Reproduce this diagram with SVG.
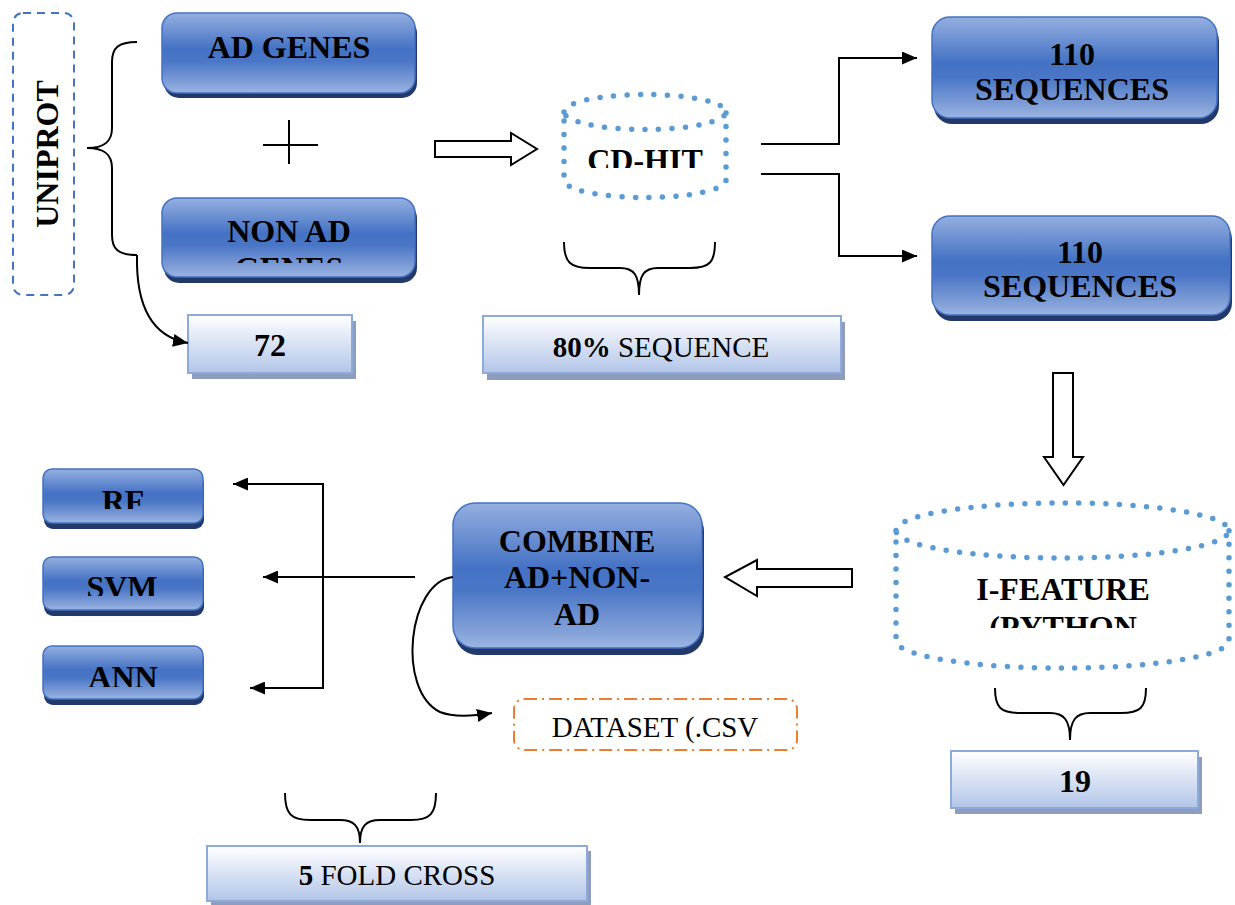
<svg xmlns="http://www.w3.org/2000/svg" width="1235" height="905" viewBox="0 0 1235 905">
<defs>
<linearGradient id="gBlue" x1="0" y1="0" x2="0" y2="1">
<stop offset="0" stop-color="#95afe0"/>
<stop offset="0.45" stop-color="#4472c4"/>
<stop offset="0.6" stop-color="#4a76c6"/>
<stop offset="0.9" stop-color="#86a3d9"/>
<stop offset="1" stop-color="#9cb5e3"/>
</linearGradient>
<linearGradient id="gLight" x1="0" y1="0" x2="0" y2="1">
<stop offset="0" stop-color="#ffffff"/>
<stop offset="1" stop-color="#b2c5e8"/>
</linearGradient>
<marker id="ah" markerUnits="userSpaceOnUse" markerWidth="15" markerHeight="13" refX="15" refY="6.5" orient="auto-start-reverse">
<path d="M0,0 L15,6.5 L0,13 z" fill="#000"/>
</marker>
<clipPath id="cNon"><rect x="150" y="190" width="280" height="73"/></clipPath>
<clipPath id="cCd"><rect x="560" y="90" width="170" height="78"/></clipPath>
<clipPath id="cIf"><rect x="890" y="500" width="345" height="128"/></clipPath>
<clipPath id="cRf"><rect x="40" y="465" width="170" height="44"/></clipPath>
<clipPath id="cSvm"><rect x="40" y="553" width="170" height="43"/></clipPath>
<clipPath id="cAnn"><rect x="40" y="642" width="170" height="45"/></clipPath>
</defs>
<style>
.shb{fill:#22396a}
.bb{fill:url(#gBlue);stroke:#4472c4;stroke-width:1.5}
.shl{fill:#8e9dbd}
.lb{fill:url(#gLight);stroke:#8eaadb;stroke-width:2}
.t{font-family:"Liberation Serif","Times New Roman",serif;font-weight:bold;font-size:32px;fill:#000;text-anchor:middle}
.tn{font-family:"Liberation Serif","Times New Roman",serif;font-size:29px;fill:#000;text-anchor:middle}
.cyl{fill:none;stroke:#5b9bd5;stroke-width:5.5;stroke-dasharray:0 13.5;stroke-linecap:round}
.ln{fill:none;stroke:#000;stroke-width:2}
.hollow{fill:#fff;stroke:#000;stroke-width:2}
</style>
<rect width="1235" height="905" fill="#fff"/>

<g id="uniprot">
<rect x="13" y="13" width="61" height="282" rx="10" fill="none" stroke="#4472c4" stroke-width="2" stroke-dasharray="8 6"/>
<text class="t" transform="translate(58,154) rotate(-90)" x="0" y="0">UNIPROT</text>
</g>

<g id="ad-genes">
<rect class="shb" x="164" y="18" width="253" height="80" rx="15"/>
<rect class="bb" x="162" y="13" width="253" height="80" rx="15"/>
<text class="t" x="289" y="58">AD GENES</text>
</g>

<g id="plus">
<line class="ln" x1="263" y1="145" x2="318" y2="145" stroke-width="1.5"/>
<line class="ln" x1="289" y1="120" x2="289" y2="164" stroke-width="1.5"/>
</g>

<g id="non-ad-genes">
<rect class="shb" x="164" y="203" width="253" height="80" rx="15"/>
<rect class="bb" x="162" y="198" width="253" height="79" rx="15"/>
<g clip-path="url(#cNon)">
<text class="t" x="289" y="242">NON AD</text>
<text class="t" x="289" y="279">GENES</text>
</g>
</g>

<g id="n72">
<rect class="shl" x="192" y="321" width="164" height="58"/>
<rect class="lb" x="188" y="315" width="164" height="58"/>
<text class="t" x="270" y="356" font-size="30">72</text>
</g>

<g id="cdhit">
<path class="cyl" d="M564,112 A81,17.5 0 0 1 726,112 A81,17.5 0 0 1 564,112 L564,180 A81,17.5 0 0 0 726,180 L726,112"/>
<g clip-path="url(#cCd)">
<text class="t" x="645" y="171">CD-HIT</text>
</g>
</g>

<g id="seq80">
<rect class="shl" x="487" y="322" width="358" height="58"/>
<rect class="lb" x="483" y="316" width="358" height="57"/>
<text class="tn" x="661" y="357"><tspan font-weight="bold">80%</tspan> SEQUENCE</text>
</g>

<g id="seq110a">
<rect class="shb" x="934" y="23" width="285" height="101" rx="18"/>
<rect class="bb" x="932" y="17" width="285" height="101" rx="18"/>
<text class="t" x="1072" y="65">110</text>
<text class="t" x="1072" y="100">SEQUENCES</text>
</g>

<g id="seq110b">
<rect class="shb" x="934" y="221" width="298" height="100" rx="18"/>
<rect class="bb" x="932" y="216" width="298" height="99" rx="18"/>
<text class="t" x="1080" y="263">110</text>
<text class="t" x="1080" y="297">SEQUENCES</text>
</g>

<g id="ifeature">
<path class="cyl" d="M896,530.5 A166,27.5 0 0 1 1229,530.5 A166,27.5 0 0 1 896,530.5 L896,640.5 A166,27.5 0 0 0 1229,640.5 L1229,530.5"/>
<g clip-path="url(#cIf)">
<text class="t" x="1063" y="600">I-FEATURE</text>
<text class="t" x="1063" y="638">(PYTHON</text>
</g>
</g>

<g id="n19">
<rect class="shl" x="955" y="757" width="247" height="57"/>
<rect class="lb" x="951" y="751" width="247" height="57"/>
<text class="t" x="1075" y="792" font-size="30">19</text>
</g>

<g id="combine">
<rect class="shb" x="455" y="509" width="249" height="146" rx="22"/>
<rect class="bb" x="453" y="503" width="249" height="145" rx="22"/>
<text class="t" x="577" y="552">COMBINE</text>
<text class="t" x="577" y="588">AD+NON-</text>
<text class="t" x="577" y="625">AD</text>
</g>

<g id="dataset">
<rect x="514" y="699" width="283" height="51" rx="10" fill="none" stroke="#ed7d31" stroke-width="2" stroke-dasharray="13 5 2 5"/>
<text class="tn" x="655" y="737" font-size="25">DATASET (.CSV</text>
</g>

<g id="rf">
<rect class="shb" x="44" y="475" width="160" height="54" rx="9"/>
<rect class="bb" x="43" y="469" width="160" height="54" rx="9"/>
<g clip-path="url(#cRf)"><text class="t" x="123" y="512">RF</text></g>
</g>

<g id="svm">
<rect class="shb" x="44" y="562" width="160" height="54" rx="9"/>
<rect class="bb" x="43" y="557" width="160" height="53" rx="9"/>
<g clip-path="url(#cSvm)"><text class="t" x="122" y="598">SVM</text></g>
</g>

<g id="ann">
<rect class="shb" x="44" y="651" width="160" height="54" rx="9"/>
<rect class="bb" x="43" y="646" width="160" height="53" rx="9"/>
<g clip-path="url(#cAnn)"><text class="t" x="123" y="688">ANN</text></g>
</g>

<g id="fold5">
<rect class="shl" x="211" y="851" width="380" height="55"/>
<rect class="lb" x="207" y="846" width="380" height="55"/>
<text class="tn" x="397" y="885"><tspan font-weight="bold">5</tspan> FOLD CROSS</text>
</g>

<g id="connectors">
<path class="ln" d="M137,42 C118,42 112,48 112,62 L112,128 C112,142 104,148 87,148 C104,148 112,154 112,168 L112,235 C112,249 118,255 137,255"/>
<path class="ln" d="M137,255 C136,300 148,336 188,343" marker-end="url(#ah)"/>
<path class="ln" d="M564,242 C564,262 570,268 590,268 L620,268 C634,268 639,275 639,295 C639,275 644,268 658,268 L690,268 C710,268 715,262 715,242"/>
<path class="ln" d="M995,688 C995,708 1001,713 1020,713 L1050,713 C1064,713 1070,720 1070,740 C1070,720 1076,713 1090,713 L1121,713 C1140,713 1146,708 1146,688"/>
<path class="ln" d="M285,793 C285,814 291,820 310,820 L340,820 C354,820 360,826 360,843 C360,826 366,820 380,820 L411,820 C430,820 436,814 436,793"/>
<polygon class="hollow" points="435,141 511,141 511,133 537,149 511,165 511,157 435,157"/>
<polygon class="hollow" points="1053,373 1073,373 1073,457 1083,457 1063.5,485 1044,457 1053,457"/>
<polygon class="hollow" points="852,569 757,569 757,560 725,577 757,596 757,587 852,587"/>
<path class="ln" d="M761,144 H839 V58 H917" marker-end="url(#ah)"/>
<path class="ln" d="M761,174 H839 V256 H917" marker-end="url(#ah)"/>
<path class="ln" d="M415,577 H263" marker-end="url(#ah)"/>
<path class="ln" d="M233,484 H323 V688 H250" marker-start="url(#ah)" marker-end="url(#ah)"/>
<path class="ln" d="M453,577 C408,582 396,690 440,712 C455,718 474,716 492,713" marker-end="url(#ah)"/>
</g>
</svg>
